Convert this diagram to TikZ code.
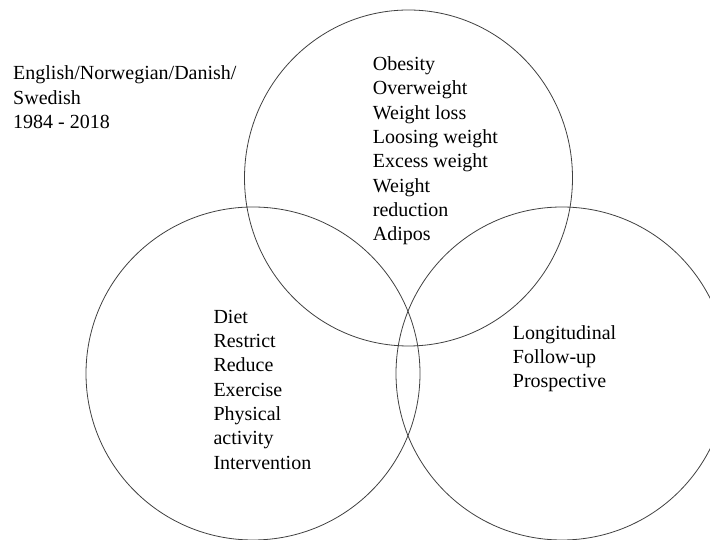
\documentclass[tikz,border=0pt]{standalone}
\usepackage{fontspec}
\setmainfont{Liberation Serif}
\usetikzlibrary{shapes.geometric}
\begin{document}
\begin{tikzpicture}[x=1pt,y=1pt,
  ring/.style={ellipse, draw=black!75, line width=0.8pt, inner sep=0pt},
  words/.style={anchor=base west, inner sep=0pt, font=\fontsize{20}{24.3}\selectfont}]
\useasboundingbox (0,0) rectangle (710,540);
\node[ring, minimum width=328pt, minimum height=336pt] (top) at (408.5,362) {};
\node[ring, minimum width=334pt, minimum height=333pt] (left) at (253,166.5) {};
\node[ring, minimum width=332pt, minimum height=333pt] (right) at (562,166.5) {};
\node[words] (lang) at (13,460) {\begin{tabular}[t]{@{}l@{}}English/Norwegian/Danish/\\Swedish\\1984 - 2018\end{tabular}};
\node[words] (obes) at (372.7,469.3) {\begin{tabular}[t]{@{}l@{}}Obesity\\Overweight\\Weight loss\\Loosing weight\\Excess weight\\Weight\\reduction\\Adipos\end{tabular}};
\node[words] (diet) at (213.3,216.7) {\begin{tabular}[t]{@{}l@{}}Diet\\Restrict\\Reduce\\Exercise\\Physical\\activity\\Intervention\end{tabular}};
\node[words] (long) at (512.7,200.7) {\begin{tabular}[t]{@{}l@{}}Longitudinal\\Follow-up\\Prospective\end{tabular}};
\end{tikzpicture}
\end{document}
